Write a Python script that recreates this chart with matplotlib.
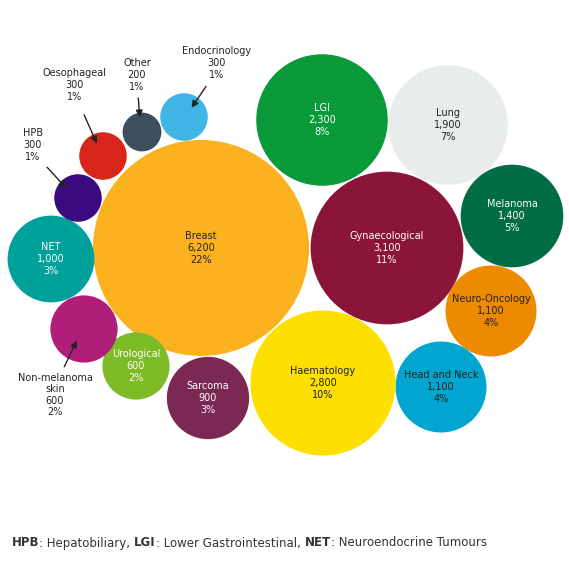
import numpy as np
import matplotlib.pyplot as plt

# data
names = ['Breast', 'LGI', 'Lung', 'Melanoma', 'Gynaecological', 'Neuro-Oncology',
         'Head and Neck', 'Haematology', 'Sarcoma', 'Urological', 'Non-melanoma\nskin',
         'NET', 'HPB', 'Oesophageal', 'Other', 'Endocrinology']
counts = [6200, 2300, 1900, 1400, 3100, 1100, 1100, 2800, 900, 600, 600, 1000, 300, 300, 200, 300]
pcts = [22, 8, 7, 5, 11, 4, 4, 10, 3, 2, 2, 3, 1, 1, 1, 1]

# layout (pixel positions of bubble centres)
cx = [201, 322, 448, 512, 387, 491, 441, 323, 208, 136, 84, 51, 78, 103, 142, 184]
cy = [248, 120, 125, 216, 248, 311, 387, 383, 398, 366, 329, 259, 198, 156, 132, 117]
colors = ['#fbb21e', '#0a9a3a', '#e8eceb', '#006d45', '#8b1538', '#ee8a00', '#00a6cf',
          '#fde000', '#7b2952', '#7cbb26', '#b01e7a', '#00a19a', '#3a0a7e', '#d9261c',
          '#3d4f5c', '#40b4e5']
dark_text = {'Breast', 'Lung', 'Haematology', 'Neuro-Oncology', 'Head and Neck'}
# labels placed outside: name -> (text x, text y, arrow end x, arrow end y)
outside = {'HPB': (33, 145, 68, 190), 'Oesophageal': (75, 85, 98, 146),
           'Other': (137, 75, 140, 120), 'Endocrinology': (217, 63, 190, 110),
           'Non-melanoma\nskin': (55, 395, 78, 338)}

fig = plt.figure(figsize=(5.69, 5.63), dpi=100)
ax = fig.add_axes([0, 0, 1, 1])
ax.set_xlim(0, 569)
ax.set_ylim(563, 0)
ax.set_aspect('equal')
ax.axis('off')

k = 108 / np.sqrt(6200)
for n, c, p, x, y, col in zip(names, counts, pcts, cx, cy, colors):
    r = k * np.sqrt(c)
    ax.add_patch(plt.Circle((x, y), r, color=col, lw=0))
    label = f'{n}\n{c:,}\n{p}%'
    if n in outside:
        tx, ty, ex, ey = outside[n]
        ax.text(tx, ty, label, ha='center', va='center', fontsize=7, color='#222222')
        ax.annotate('', xy=(ex, ey), xytext=(tx + (ex - tx) * 0.35, ty + (ey - ty) * 0.45),
                    arrowprops=dict(arrowstyle='-|>', color='#222222', lw=1))
    else:
        tc = '#222222' if n in dark_text else 'white'
        ax.text(x, y, label, ha='center', va='center', fontsize=7, color=tc)

# footer with bold abbreviations
parts = [('HPB', 'bold'), (': Hepatobiliary, ', 'normal'), ('LGI', 'bold'),
         (': Lower Gastrointestinal, ', 'normal'), ('NET', 'bold'), (': Neuroendocrine Tumours', 'normal')]
fig.canvas.draw()
r = fig.canvas.get_renderer()
xpos = 12
for s, w in parts:
    t = ax.text(xpos, 543, s, fontsize=8.5, fontweight=w, color='#333333', va='center')
    bb = t.get_window_extent(renderer=r)
    xpos += bb.width

fig.savefig('out.png', dpi=100, facecolor='white')
